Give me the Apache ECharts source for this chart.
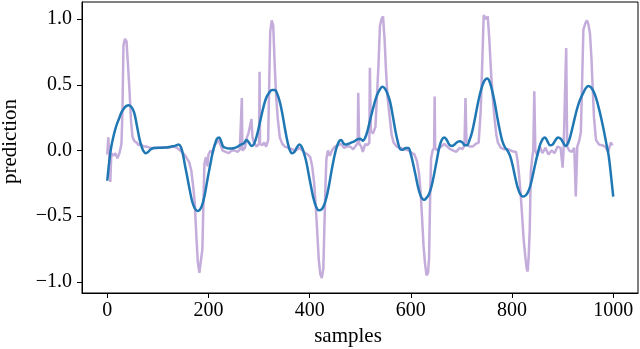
<!DOCTYPE html>
<html>
<head>
<meta charset="utf-8">
<script src="https://cdn.jsdelivr.net/npm/echarts@6/dist/echarts.min.js"></script>
<style>
  html, body { margin: 0; padding: 0; background: #fff; }
  #chart { width: 640px; height: 349px; }
</style>
</head>
<body>
<div id="chart"></div>
<script>
// tick positions
const xTicks = [0, 200, 400, 600, 800, 1000];
const yTicks = [-1.0, -0.5, 0.0, 0.5, 1.0];

// raw prediction (light purple), [sample, value]
const rawPoints = [
  [0,-0.03],[2,0.1],[4,-0.04],[6,-0.24],[8,-0.02],[12,-0.04],[16,-0.02],[20,-0.06],[24,-0.02],[28,0.05],
  [30,0.3],[32,0.8],[35,0.85],[38,0.83],[41,0.65],[44,0.45],[47,0.22],[50,0.1],[54,0.07],[58,0.06],
  [62,0.04],[66,0.05],[72,0.03],[78,0.03],[85,0.02],[92,0.02],[100,0.02],[110,0.025],[120,0.02],[130,0.03],
  [138,0.02],[144,0.0],[150,-0.02],[156,-0.05],[162,-0.09],[166,-0.15],[170,-0.28],[173,-0.4],[176,-0.65],[179,-0.85],
  [182,-0.93],[185,-0.94],[188,-0.75],[190,-0.4],[192,-0.1],[195,-0.05],[198,-0.12],[200,-0.03],[204,0.0],[208,-0.02],
  [212,0.04],[216,0.06],[220,0.08],[224,0.04],[228,0.0],[234,-0.01],[240,-0.02],[246,0.0],[252,0.0],[258,-0.01],
  [262,0.01],[265,0.0],[266,0.4],[267,0.0],[272,0.02],[276,0.1],[279,0.13],[282,0.14],[285,0.24],[287,0.1],
  [290,0.06],[295,0.03],[300,0.05],[301,0.6],[302,0.05],[306,0.04],[310,0.06],[314,0.03],[318,0.08],[320,0.5],
  [322,0.9],[325,0.99],[328,0.95],[331,0.64],[334,0.4],[337,0.24],[341,0.1],[346,0.05],[351,0.03],[358,0.02],
  [365,0.01],[372,0.0],[380,0.02],[386,0.0],[391,-0.02],[396,-0.03],[401,-0.05],[405,-0.12],[409,-0.25],[412,-0.42],
  [415,-0.62],[418,-0.83],[421,-0.94],[424,-0.97],[427,-0.9],[429,-0.6],[431,-0.3],[433,-0.07],[436,0.0],[440,-0.04],
  [444,0.0],[450,0.03],[456,0.04],[462,0.05],[468,0.02],[474,0.03],[480,0.03],[486,0.01],[492,0.04],[495,0.06],
  [496,0.44],[498,0.05],[502,0.03],[505,-0.01],[510,0.05],[514,0.04],[518,0.06],[519,0.63],[521,0.15],[525,0.13],
  [530,0.18],[533,0.19],[536,0.65],[539,0.95],[542,1.0],[545,1.02],[548,0.85],[551,0.6],[554,0.4],[558,0.26],
  [562,0.12],[566,0.06],[572,0.03],[580,0.02],[588,0.01],[596,0.0],[602,-0.02],[607,-0.03],[612,-0.08],[616,-0.17],
  [619,-0.3],[622,-0.5],[625,-0.72],[628,-0.86],[631,-0.95],[634,-0.93],[636,-0.82],[638,-0.38],[640,-0.06],[643,0.0],
  [646,0.02],[647,0.41],[648,0.02],[652,0.0],[656,0.02],[660,0.03],[666,0.05],[672,0.03],[678,0.01],[684,0.0],
  [690,-0.01],[696,0.02],[702,0.01],[706,0.04],[708,0.4],[710,0.05],[716,0.03],[722,0.03],[728,0.05],[734,0.06],
  [738,0.3],[741,0.65],[744,1.03],[748,1.0],[752,1.02],[755,0.85],[759,0.56],[762,0.4],[765,0.26],[769,0.12],
  [772,0.06],[778,0.02],[785,0.01],[791,0.01],[798,0.0],[804,-0.01],[808,-0.01],[811,-0.08],[814,-0.19],[817,-0.33],
  [820,-0.5],[823,-0.68],[826,-0.8],[829,-0.9],[831,-0.92],[833,-0.8],[835,-0.6],[837,-0.17],[840,-0.05],[842,0.0],
  [844,0.45],[846,0.0],[850,-0.04],[855,0.03],[860,-0.02],[866,0.02],[872,-0.03],[878,0.0],[884,-0.02],[890,0.03],
  [896,0.02],[900,-0.13],[902,0.02],[905,0.03],[907,0.78],[909,0.03],[913,0.0],[918,-0.01],[923,0.02],[926,-0.35],
  [929,0.03],[933,0.08],[936,0.14],[939,0.6],[941,0.92],[945,0.97],[948,0.99],[951,0.96],[954,0.89],[957,0.7],
  [959,0.51],[962,0.25],[966,0.08],[972,0.045],[978,0.04],[984,0.03],[990,-0.01],[995,0.06],[999,0.04]
];

// smoothed prediction (blue), [sample, value]
const smoothPoints = [
  [0,-0.23],[4,-0.08],[8,0.03],[13,0.12],[18,0.19],[23,0.24],[28,0.29],[33,0.32],[38,0.34],[43,0.345],
  [48,0.33],[53,0.29],[58,0.2],[63,0.1],[67,0.04],[71,0.0],[76,-0.02],[81,-0.01],[86,0.01],[92,0.02],
  [100,0.022],[110,0.022],[120,0.025],[130,0.032],[137,0.04],[141,0.045],[145,0.03],[149,-0.02],[153,-0.1],[158,-0.2],
  [163,-0.3],[168,-0.39],[173,-0.44],[178,-0.46],[183,-0.45],[188,-0.41],[193,-0.33],[198,-0.22],[203,-0.12],[208,-0.02],
  [213,0.05],[217,0.09],[221,0.1],[225,0.07],[229,0.03],[234,0.02],[240,0.015],[246,0.015],[252,0.02],[258,0.03],
  [264,0.045],[270,0.055],[275,0.08],[280,0.06],[285,0.035],[290,0.05],[296,0.12],[302,0.22],[308,0.32],[314,0.4],
  [320,0.44],[326,0.46],[331,0.46],[336,0.43],[341,0.37],[346,0.28],[351,0.17],[356,0.07],[361,0.0],[365,-0.02],
  [370,-0.01],[375,0.025],[380,0.045],[384,0.03],[388,-0.01],[393,-0.08],[398,-0.18],[403,-0.28],[408,-0.37],[413,-0.43],
  [418,-0.455],[423,-0.45],[428,-0.42],[433,-0.36],[438,-0.27],[443,-0.16],[448,-0.06],[453,0.02],[458,0.07],[462,0.08],
  [466,0.06],[470,0.045],[476,0.05],[482,0.06],[488,0.07],[494,0.085],[500,0.09],[505,0.075],[510,0.1],[515,0.16],
  [520,0.24],[526,0.33],[532,0.41],[538,0.46],[544,0.485],[549,0.47],[554,0.43],[559,0.37],[564,0.27],[569,0.16],
  [574,0.07],[579,0.01],[584,0.005],[590,0.02],[595,0.02],[600,-0.03],[605,-0.11],[610,-0.2],[615,-0.29],[620,-0.35],
  [626,-0.375],[631,-0.36],[636,-0.33],[641,-0.27],[646,-0.18],[651,-0.08],[656,0.02],[661,0.08],[666,0.1],[671,0.08],
  [676,0.045],[681,0.035],[686,0.045],[692,0.065],[697,0.07],[702,0.06],[707,0.04],[711,0.04],[716,0.08],[721,0.14],
  [726,0.23],[731,0.33],[736,0.42],[741,0.49],[746,0.535],[751,0.548],[756,0.52],[761,0.45],[766,0.36],[771,0.25],
  [776,0.15],[781,0.07],[786,0.025],[791,0.0],[796,-0.04],[801,-0.11],[806,-0.2],[811,-0.28],[816,-0.33],[821,-0.35],
  [826,-0.345],[831,-0.32],[836,-0.27],[841,-0.19],[846,-0.1],[851,-0.02],[856,0.05],[861,0.09],[865,0.1],[870,0.07],
  [875,0.04],[880,0.045],[886,0.08],[891,0.1],[896,0.09],[901,0.06],[906,0.035],[911,0.06],[916,0.12],[921,0.2],
  [926,0.28],[931,0.35],[936,0.4],[941,0.44],[946,0.475],[951,0.49],[956,0.48],[961,0.45],[966,0.4],[971,0.33],
  [976,0.25],[981,0.16],[986,0.06],[991,-0.04],[995,-0.17],[1000,-0.35]
];

const FONT = '"Liberation Serif", "DejaVu Serif", serif';

const chart = echarts.init(document.getElementById('chart'), null, { renderer: 'canvas' });

const option = {
  animation: false,
  backgroundColor: '#fff',
  grid: {
    left: 82,
    right: 2,
    top: 2,
    bottom: 56,
    outerBoundsMode: 'none',
    containLabel: false,
    show: true,
    borderColor: '#000',
    borderWidth: 1
  },
  xAxis: {
    type: 'value',
    min: -49.95,
    max: 1048.95,
    name: 'samples',
    nameLocation: 'middle',
    nameGap: 30,
    nameTextStyle: {
      fontFamily: FONT,
      fontSize: 21,
      color: '#000',
      padding: [0, 24, 0, 0]
    },
    axisLine: { show: true, onZero: false, lineStyle: { color: '#000', width: 1 } },
    axisTick: {
      show: true,
      inside: false,
      length: 5,
      customValues: xTicks,
      lineStyle: { color: '#000', width: 1 }
    },
    axisLabel: {
      customValues: xTicks,
      margin: 8,
      color: '#000',
      fontFamily: FONT,
      fontSize: 20,
      formatter: v => String(v)
    },
    splitLine: { show: false }
  },
  yAxis: {
    type: 'value',
    min: -1.084,
    max: 1.13,
    name: 'prediction',
    nameLocation: 'middle',
    nameGap: 61,
    nameRotate: 90,
    nameTextStyle: {
      fontFamily: FONT,
      fontSize: 21,
      color: '#000',
      padding: [0, 0, 0, 12]
    },
    axisLine: { show: true, onZero: false, lineStyle: { color: '#000', width: 1 } },
    axisTick: {
      show: true,
      inside: false,
      length: 5,
      customValues: yTicks,
      lineStyle: { color: '#000', width: 1 }
    },
    axisLabel: {
      customValues: yTicks,
      margin: 10,
      color: '#000',
      fontFamily: FONT,
      fontSize: 20,
      formatter: v => v.toFixed(1).replace('-', '\u2212')
    },
    splitLine: { show: false }
  },
  series: [
    {
      name: 'raw',
      type: 'line',
      data: rawPoints,
      showSymbol: false,
      lineStyle: { color: '#9467bd', width: 2.5, opacity: 0.55 },
      z: 2
    },
    {
      name: 'smooth',
      type: 'line',
      data: smoothPoints,
      smooth: 0.4,
      showSymbol: false,
      lineStyle: { color: '#1f77b4', width: 2.5 },
      z: 3
    }
  ]
};

chart.setOption(option);
</script>
</body>
</html>
